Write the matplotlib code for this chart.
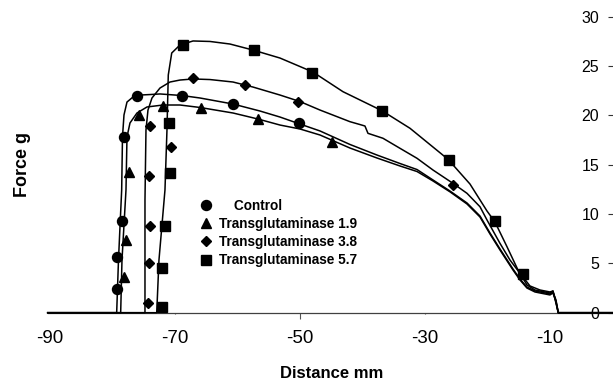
import matplotlib
matplotlib.use('Agg')
import matplotlib.pyplot as plt
from matplotlib.lines import Line2D

# ---- curves (Distance mm, Force g) ----
control_x = [-90.4, -79.36, -79.07, -78.78, -78.56, -78.43, -78.19, -77.71, -76.75, -75.63, -74.03,
             -72.43, -68.91, -66.02, -60.74, -56.42, -53.22, -50.02, -46.82, -42.02, -37.70, -34.01,
             -31.29, -28.73, -26.01, -23.29, -21.21, -19.61, -18.01, -15.93, -14.81, -13.69, -12.41,
             -10.81, -10.01, -9.53, -9.05, -8.68, 0.0]
control_y = [0, 0, 5.34, 9.40, 12.44, 17.81, 20.04, 21.35, 21.86, 22.06, 22.11,
             22.17, 22.01, 21.76, 21.15, 20.44, 19.83, 19.12, 18.42, 17.05, 15.98, 15.12,
             14.51, 13.45, 12.33, 11.12, 9.80, 8.08, 6.46, 4.43, 3.42, 2.60, 2.20,
             2.00, 1.90, 2.10, 1.29, 0, 0]

tg19_x = [-90.4, -78.72, -78.51, -77.87, -77.71, -77.23, -76.11, -74.51, -71.95, -69.23, -66.02,
          -60.74, -56.74, -53.22, -50.02, -46.82, -42.02, -37.70, -34.01, -31.29, -28.73, -26.01,
          -23.29, -21.21, -19.61, -18.01, -15.93, -14.81, -13.69, -12.41, -10.81, -10.01, -9.53,
          -9.05, -8.68, 0.0]
tg19_y = [0, 0, 5.34, 12.44, 17.81, 19.23, 20.24, 20.85, 21.05, 21.05, 20.80,
          20.24, 19.63, 19.02, 18.62, 18.01, 16.69, 15.68, 14.87, 14.31, 13.35, 12.25,
          11.02, 9.70, 7.98, 6.36, 4.33, 3.32, 2.50, 2.10, 1.90, 1.80, 2.00,
          1.18, 0, 0]

tg38_x = [-90.4, -74.83, -74.83, -74.67, -74.35, -73.71, -72.43, -70.83, -69.23, -67.14, -64.42,
          -60.74, -57.54, -53.22, -50.02, -46.82, -42.02, -40.42, -39.62, -39.14, -36.74, -34.01,
          -31.29, -28.73, -25.53, -23.29, -21.21, -20.09, -18.01, -16.41, -14.81, -13.69, -12.41,
          -10.81, -10.01, -9.53, -9.05, -8.68, 0.0]
tg38_y = [0, 0, 11.42, 18.52, 20.54, 21.76, 22.77, 23.38, 23.58, 23.69, 23.63,
          23.38, 22.87, 22.06, 21.40, 20.54, 19.36, 19.07, 18.92, 18.18, 17.68, 16.66,
          15.65, 14.46, 13.11, 12.10, 10.74, 9.40, 7.03, 5.34, 3.99, 2.81, 2.30,
          2.10, 2.00, 2.20, 1.08, 0, 0]

tg57_x = [-90.4, -72.95, -72.59, -72.11, -71.63, -71.31, -71.10, -70.55, -69.23, -67.14, -64.42,
          -61.22, -57.54, -53.22, -47.94, -43.14, -36.89, -32.41, -26.33, -22.81, -20.09, -18.81,
          -16.89, -15.13, -14.33, -13.21, -11.61, -10.01, -9.53, -9.05, -8.68, 0.0]
tg57_y = [0, 0, 5.34, 8.89, 12.44, 18.52, 24.09, 26.32, 27.13, 27.54, 27.49,
          27.23, 26.62, 25.81, 24.39, 22.40, 20.47, 18.69, 15.55, 13.04, 10.31, 9.19,
          6.69, 4.33, 3.62, 2.71, 2.30, 2.10, 2.20, 0.98, 0, 0]

# ---- marker points ----
control_mx = [-79.36, -79.26, -78.46, -78.14, -76.16, -68.86, -60.69, -50.18]
control_my = [2.37, 5.68, 9.32, 17.78, 21.99, 21.93, 21.15, 19.20]
tg19_mx = [-78.14, -77.87, -77.39, -75.74, -71.99, -65.86, -56.79, -44.95]
tg19_my = [3.65, 7.37, 14.29, 20.04, 20.95, 20.78, 19.63, 17.33]
tg38_mx = [-74.30, -74.14, -74.03, -74.14, -74.03, -70.71, -67.10, -58.82, -50.39, -25.49]
tg38_my = [0.95, 5.01, 8.79, 13.85, 18.92, 16.82, 23.76, 23.08, 21.38, 12.94]
tg57_mx = [-72.15, -72.06, -71.63, -70.83, -70.94, -68.70, -57.38, -48.05, -36.94, -26.12, -18.81, -14.38]
tg57_my = [0.55, 4.50, 8.82, 14.19, 19.26, 27.13, 26.62, 24.32, 20.47, 15.48, 9.32, 3.92]

series_labels = ['    Control', 'Transglutaminase 1.9', 'Transglutaminase 3.8', 'Transglutaminase 5.7']
xtick_vals = [-90, -70, -50, -30, -10]
ytick_vals = [0, 5, 10, 15, 20, 25, 30]

plt.rcParams['font.family'] = ['Liberation Sans', 'DejaVu Sans']

W, H = 613, 381
fig = plt.figure(figsize=(W / 100, H / 100), dpi=100)
ax = fig.add_axes([47.7 / W, (H - 312.7) / H, (612.5 - 47.7) / W, 296 / H])

curves = [(control_x, control_y), (tg19_x, tg19_y), (tg38_x, tg38_y), (tg57_x, tg57_y)]
for cx, cy in curves:
    ax.plot(cx, cy, color='black', lw=1.1, clip_on=False, zorder=3)

mk = [('o', 7.2), ('^', 7.2), ('D', 5.6), ('s', 6.6)]
marks = [(control_mx, control_my), (tg19_mx, tg19_my), (tg38_mx, tg38_my), (tg57_mx, tg57_my)]
handles = []
for (m, s), (mx, my) in zip(mk, marks):
    ax.plot(mx, my, ls='none', marker=m, ms=s, color='black', clip_on=False, zorder=4)
    handles.append(Line2D([], [], ls='none', marker=m, ms=s, color='black'))

ax.set_xlim(-90.4, 0)
ax.set_ylim(0, 30)

for sp in ['top', 'right']:
    ax.spines[sp].set_visible(False)
ax.spines['left'].set_position(('axes', 1.0))
ax.spines['left'].set_visible(False)
ax.spines['bottom'].set_color('#404040')
ax.spines['bottom'].set_linewidth(0.9)

ax.set_xticks(xtick_vals)
ax.set_xticklabels([str(v) for v in xtick_vals])
ax.set_yticks(ytick_vals)
ax.set_yticklabels([str(v) for v in ytick_vals])
ax.tick_params(axis='x', length=4, width=0.8, color='#555555', labelsize=13.5, pad=8.5)
ax.tick_params(axis='y', length=3.3, width=0.8, color='#333333', labelsize=11.5, pad=6.3)
# tick marks in the reference: visible only at -50, faint dots at -70 and -30
for t, lenpt in zip(ax.xaxis.get_major_ticks(), [0, 1.0, 4, 1.0, 0]):
    t.tick1line.set_markersize(lenpt)

leg = ax.legend(handles, series_labels, loc='upper left', bbox_to_anchor=(0.2677, 0.384),
                frameon=False, borderpad=0, borderaxespad=0, handlelength=1.0,
                handletextpad=0.45, labelspacing=0.3,
                prop={'family': 'Liberation Sans', 'weight': 'bold', 'size': 9.8})

fig.text(331.5 / W, 1 - 373 / H, 'Distance mm', ha='center', va='center',
         fontsize=12, fontweight='bold')
fig.text(22.5 / W, 1 - 164.5 / H, 'Force g', ha='center', va='center', rotation=90,
         fontsize=13, fontweight='bold')

fig.savefig('out.png', dpi=100, facecolor='white')
